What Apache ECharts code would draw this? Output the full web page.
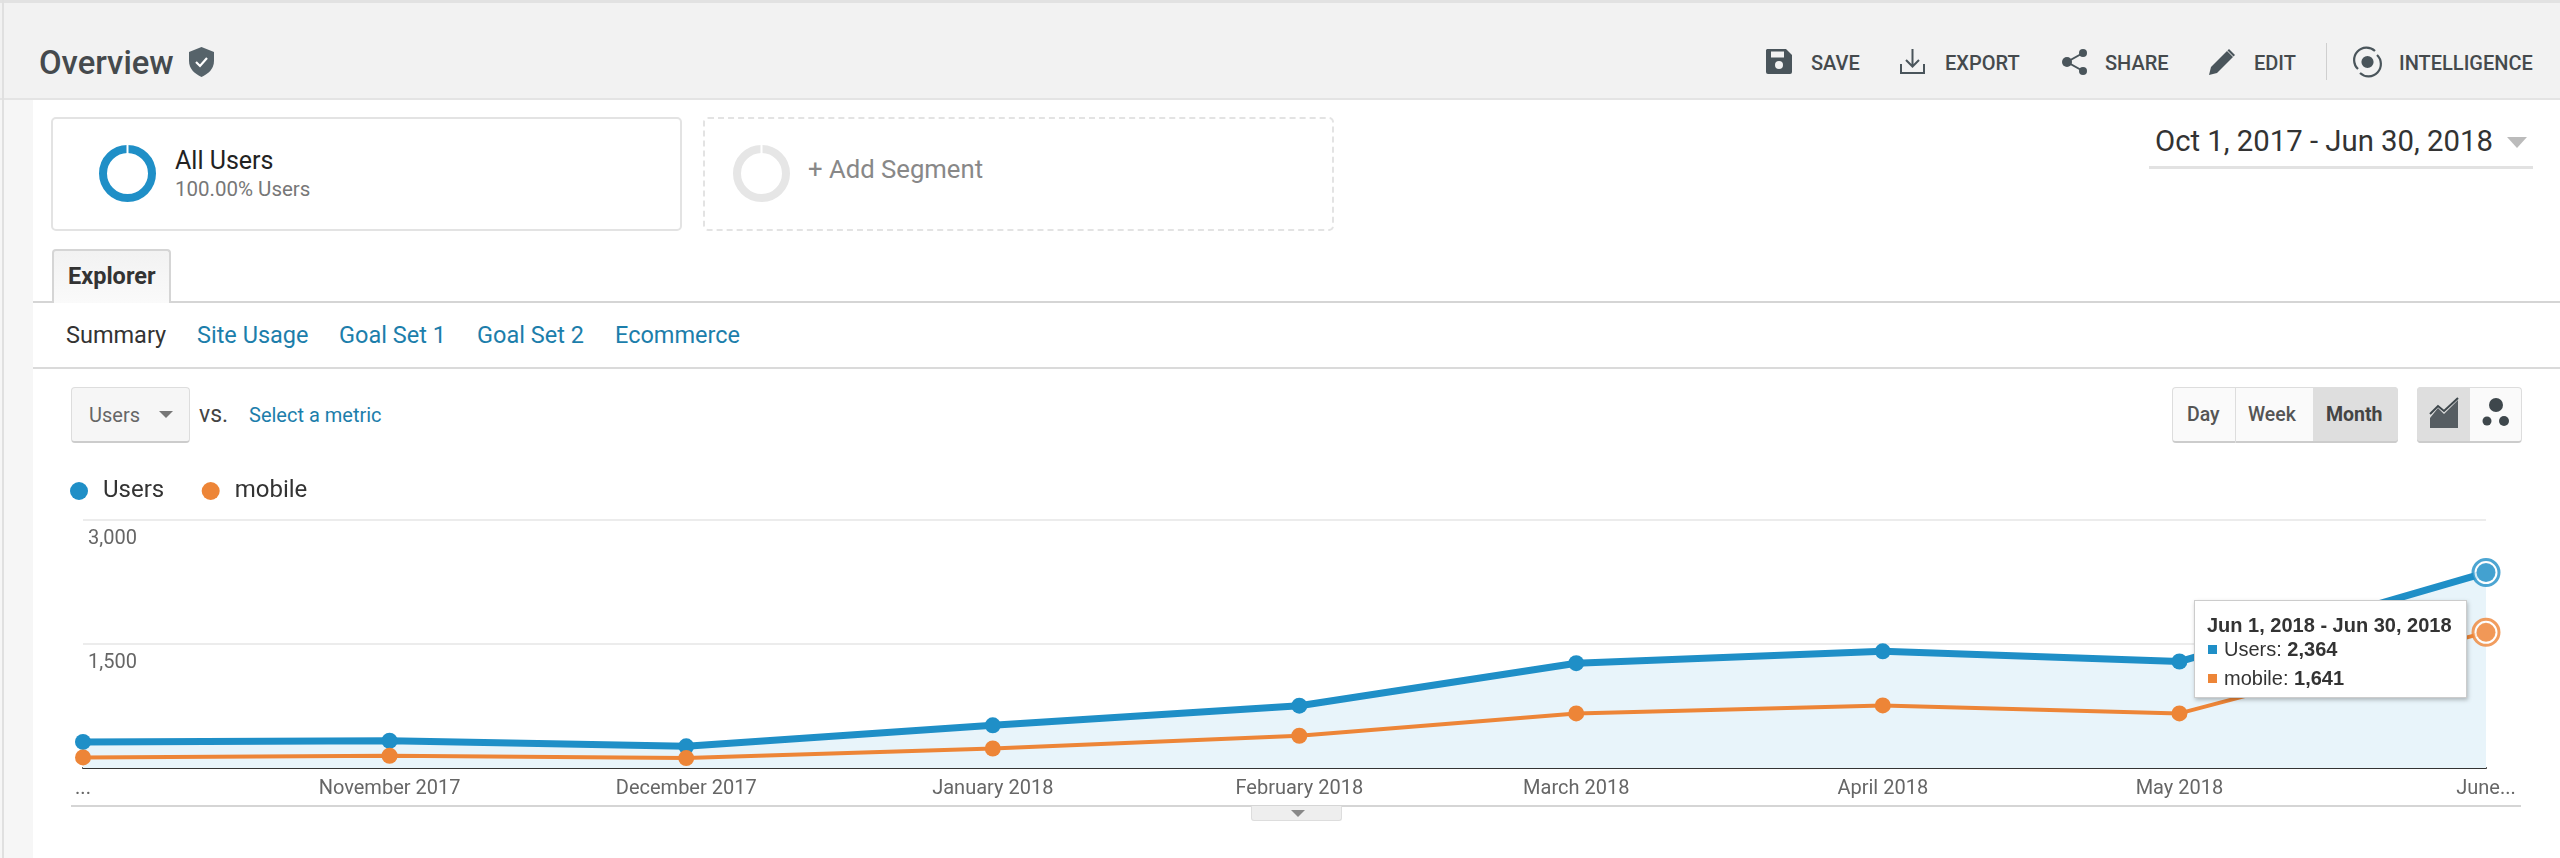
<!DOCTYPE html>
<html><head><meta charset="utf-8">
<script src="https://cdn.jsdelivr.net/npm/echarts@6/dist/echarts.min.js"></script>
<style>
html,body{margin:0;padding:0;width:2560px;height:858px;overflow:hidden;background:#fff;font-family:Roboto,Arial,sans-serif}
.t{position:absolute;white-space:nowrap;line-height:1;transform:translateY(-50%)}
.box{position:absolute;box-sizing:border-box}
#chart{position:absolute;left:0;top:0;width:2560px;height:858px}
svg{position:absolute;overflow:visible}
.st{font-size:20px;font-weight:500;color:#454a4d}
.lk{font-size:23.500px;color:#1c7eab}
</style></head><body>
<div class="box" style="left:0;top:0;width:2560px;height:100px;background:#f2f2f2;border-top:3px solid #e2e2e2;border-bottom:2px solid #e4e4e4"></div>
<div class="box" style="left:0;top:100px;width:33px;height:758px;background:#f6f6f6"></div>
<div class="box" style="left:2px;top:0;width:2px;height:858px;background:#e0e0e0"></div>

<div class="t" style="left:39px;top:63px;font-size:32.800px;font-weight:500;color:#454a4d">Overview</div>
<svg style="left:189px;top:47px" width="25" height="30" viewBox="0 0 25 30"><path d="M12.5 0 L25 5 V14 C25 22 19 27 12.5 30 C6 27 0 22 0 14 V5Z" fill="#56636a"/><path d="M7 15l4 4 7-8" stroke="#fff" stroke-width="2.2" fill="none"/></svg>

<svg style="left:1766px;top:49px" width="26" height="25" viewBox="0 0 26 25"><path d="M1 0H20L26 6V23a2 2 0 0 1-2 2H2a2 2 0 0 1-2-2V1Z" fill="#4a555b"/><rect x="5" y="2.5" width="13" height="6" fill="#f2f2f2"/><circle cx="13" cy="16" r="4" fill="#f2f2f2"/></svg>
<div class="t st" style="left:1811px;top:63px">SAVE</div>
<svg style="left:1900px;top:49px" width="25" height="25" viewBox="0 0 25 25" fill="none" stroke="#4a555b" stroke-width="2"><path d="M12.5 0V17M6 11l6.500 6.500L19 11"/><path d="M1 15V24H24V15"/></svg>
<div class="t st" style="left:1945px;top:63px">EXPORT</div>
<svg style="left:2062px;top:49px" width="26" height="26" viewBox="0 0 26 26"><path d="M21 4L5 13L21 22" stroke="#4a555b" stroke-width="2" fill="none"/><circle cx="21" cy="4" r="4" fill="#4a555b"/><circle cx="5" cy="13" r="5" fill="#4a555b"/><circle cx="21" cy="22" r="4" fill="#4a555b"/></svg>
<div class="t st" style="left:2105px;top:63px">SHARE</div>
<svg style="left:2209px;top:49px" width="26" height="26" viewBox="0 0 26 26"><path d="M0 26L2 18L18 2L24 8L8 24Z" fill="#4a555b"/><path d="M20 0L26 6L24.500 7.500L18.500 1.500Z" fill="#4a555b"/></svg>
<div class="t st" style="left:2254px;top:63px">EDIT</div>
<div class="box" style="left:2326px;top:43px;width:1px;height:37px;background:#cfcfcf"></div>
<svg style="left:2353px;top:48px" width="29" height="28" viewBox="0 0 29 28" fill="none" stroke="#4a555b" stroke-width="2.2"><path d="M5 21A12 12 0 0 1 22 3"/><path d="M24 7A12 12 0 0 1 7 25"/><circle cx="14.500" cy="14" r="5" fill="#4a555b"/></svg>
<div class="t st" style="left:2399px;top:63px">INTELLIGENCE</div>

<div class="box" style="left:51px;top:117px;width:631px;height:114px;border:2px solid #e3e3e3;border-radius:5px"></div>
<svg style="left:99px;top:144.500px" width="57" height="57" viewBox="0 0 57 57"><circle cx="28.500" cy="28.500" r="24.500" fill="none" stroke="#1f8fc7" stroke-width="8"/><rect x="27.500" y="0" width="2" height="9" fill="#fff"/></svg>
<div class="t" style="left:175px;top:160px;font-size:25px;color:#222">All Users</div>
<div class="t" style="left:175px;top:189px;font-size:20.500px;color:#777">100.00% Users</div>
<div class="box" style="left:703px;top:117px;width:631px;height:114px;border:2px dashed #e3e3e3;border-radius:5px"></div>
<svg style="left:733px;top:144.500px" width="57" height="57" viewBox="0 0 57 57"><circle cx="28.500" cy="28.500" r="24.500" fill="none" stroke="#e6e6e6" stroke-width="8"/><rect x="27.500" y="0" width="2" height="9" fill="#fff"/></svg>
<div class="t" style="left:808px;top:170px;font-size:25.700px;color:#888">+ Add Segment</div>

<div class="t" style="left:2155px;top:142px;font-size:29.300px;color:#333">Oct 1, 2017 - Jun 30, 2018</div>
<svg style="left:2507px;top:137px" width="20" height="11"><path d="M0 0H20L10 11Z" fill="#bbb"/></svg>
<div class="box" style="left:2149px;top:166px;width:384px;height:3px;background:#e2e2e2"></div>

<div class="box" style="left:33px;top:301px;width:2527px;height:2px;background:#d5d5d5"></div>
<div class="box" style="left:52px;top:249px;width:119px;height:54px;background:linear-gradient(#f2f2f2,#fafafa);border:2px solid #d5d5d5;border-bottom:none;border-radius:4px 4px 0 0"></div>
<div class="t" style="left:68px;top:277px;font-size:23.500px;font-weight:700;color:#333">Explorer</div>
<div class="t" style="left:66px;top:336px;font-size:23.500px;color:#333">Summary</div>
<div class="t lk" style="left:197px;top:336px">Site Usage</div>
<div class="t lk" style="left:339px;top:336px">Goal Set 1</div>
<div class="t lk" style="left:477px;top:336px">Goal Set 2</div>
<div class="t lk" style="left:615px;top:336px">Ecommerce</div>
<div class="box" style="left:33px;top:367px;width:2527px;height:2px;background:#dadada"></div>

<div class="box" style="left:71px;top:387px;width:119px;height:56px;background:#f6f6f6;border:1px solid #ddd;border-bottom:2px solid #ccc;border-radius:4px"></div>
<div class="t" style="left:89px;top:415px;font-size:20px;color:#666">Users</div>
<svg style="left:159px;top:411px" width="14" height="7"><path d="M0 0H14L7 7Z" fill="#777"/></svg>
<div class="t" style="left:199px;top:414px;font-size:23px;color:#444">vs.</div>
<div class="t" style="left:249px;top:415px;font-size:20px;color:#1c7eab">Select a metric</div>

<div class="box" style="left:2172px;top:387px;width:226px;height:56px;background:#fafafa;border:1px solid #ddd;border-bottom:2px solid #ccc;border-radius:4px"></div>
<div class="box" style="left:2313px;top:387px;width:85px;height:56px;background:#dedede;border-bottom:2px solid #ccc;border-radius:0 4px 4px 0"></div>
<div class="box" style="left:2235px;top:387px;width:1px;height:56px;background:#ddd"></div>
<div class="t" style="left:2187px;top:415px;font-size:19.500px;font-weight:500;color:#555">Day</div>
<div class="t" style="left:2248px;top:415px;font-size:19.500px;font-weight:500;color:#555">Week</div>
<div class="t" style="left:2326px;top:415px;font-size:19.500px;font-weight:700;color:#444">Month</div>
<div class="box" style="left:2417px;top:387px;width:105px;height:56px;background:#fafafa;border:1px solid #ddd;border-bottom:2px solid #ccc;border-radius:4px"></div>
<div class="box" style="left:2417px;top:387px;width:53px;height:56px;background:#dedede;border-bottom:2px solid #ccc;border-radius:4px 0 0 4px"></div>
<svg style="left:2430px;top:398px" width="28" height="30" viewBox="0 0 28 30"><path d="M0 30V20L8 10L14 16L28 2V30Z" fill="#3e474c" opacity=".85"/><path d="M0 16L8 8L14 13L28 0" fill="none" stroke="#3e474c" stroke-width="2"/></svg>
<svg style="left:2480px;top:397px" width="32" height="32" viewBox="0 0 32 32" fill="#3e474c"><circle cx="16" cy="8" r="7"/><circle cx="7" cy="24" r="4.500"/><circle cx="24" cy="24" r="5"/></svg>

<div class="box" style="left:71px;top:805px;width:2450px;height:2px;background:#d5d5d5"></div>
<div class="box" style="left:1251px;top:806px;width:91px;height:15px;background:#eee;border:1px solid #ddd;border-top:none;border-radius:0 0 3px 3px"></div>
<svg style="left:1291px;top:810px" width="14" height="7"><path d="M0 0H14L7 7Z" fill="#888"/></svg>

<div id="chart"></div>
<script>
const monthDates = ['2017-10-01','2017-11-01','2017-12-01','2018-01-01','2018-02-01','2018-03-01','2018-04-01','2018-05-01','2018-06-01'];
const tickLabels = ['...','November 2017','December 2017','January 2018','February 2018','March 2018','April 2018','May 2018','June...'];
const usersValues = [315,330,262,516,754,1268,1411,1288,2364];
const mobileValues = [128,148,120,236,390,660,757,660,1641];
const yTicks = [0,1500,3000];
const tipTitle = 'Jun 1, 2018 - Jun 30, 2018';

const BLUE='#1f8fc7', ORANGE='#ed8537';
const ts = monthDates.map(d=>Date.parse(d+'T00:00:00Z'));
const pairs = v => v.map((y,i)=>[ts[i],y]);
const lastPair = v => [[ts[ts.length-1], v[v.length-1]]];
const fmt = n => n.toLocaleString('en-US');
const chart = echarts.init(document.getElementById('chart'),null,{renderer:'canvas',width:2560,height:858});
chart.setOption({
  animation:false,
  backgroundColor:'transparent',
  legend:{
    data:['Users','mobile'],left:65,top:474,icon:'circle',itemWidth:18,itemHeight:18,itemGap:37.500,
    textStyle:{fontFamily:'Roboto',fontSize:24,color:'#333',padding:[0,0,0,10]}
  },
  grid:{left:83,right:74,top:520,bottom:858-768},
  xAxis:{
    type:'value',min:ts[0],max:ts[ts.length-1],
    axisLine:{show:true,onZero:false,lineStyle:{color:'#333',width:2}},
    axisTick:{show:false},splitLine:{show:false},
    axisLabel:{
      customValues:ts,hideOverlap:false,margin:11,showMinLabel:true,showMaxLabel:true,
      fontFamily:'Roboto',fontSize:20,color:'#666',
      formatter:v=>tickLabels[ts.indexOf(v)]
    }
  },
  yAxis:{
    type:'value',min:yTicks[0],max:yTicks[2],interval:yTicks[1],
    axisLine:{show:false},axisTick:{show:false},
    splitLine:{lineStyle:{color:'#ececec',width:2}},
    axisLabel:{
      inside:true,margin:5,verticalAlign:'top',lineHeight:38,fontFamily:'Roboto',fontSize:20,color:'#666',
      formatter:v=>v===0?'':fmt(v)
    }
  },
  tooltip:{
    trigger:'axis',alwaysShowContent:true,showContent:true,transitionDuration:0,
    axisPointer:{type:'none'},
    position:[2194,600],
    padding:0,borderWidth:1,borderColor:'#ccc',backgroundColor:'#fff',
    extraCssText:'box-shadow:1px 2px 4px rgba(0,0,0,.25);border-radius:0;width:271px;height:96px;box-sizing:content-box;',
    formatter:()=>{
      const i=usersValues.length-1;
      const row=(c,n,v,top)=>`<div style="position:absolute;left:13px;top:${top}px;white-space:nowrap;font:20px/22px 'Liberation Sans',Arial;color:#333"><span style="display:inline-block;width:9px;height:9px;background:${c};margin-right:7px;vertical-align:2px"></span>${n}: <b>${fmt(v)}</b></div>`;
      return `<div style="position:absolute;left:12px;top:13px;white-space:nowrap;font:bold 20px/22px 'Liberation Sans',Arial;color:#333">${tipTitle}</div>`
        +row(BLUE,'Users',usersValues[i],37)+row(ORANGE,'mobile',mobileValues[i],66);
    }
  },
  series:[
    {name:'Users',type:'line',data:pairs(usersValues),z:2,symbol:'circle',symbolSize:16,showSymbol:true,
     lineStyle:{color:BLUE,width:7},itemStyle:{color:BLUE},areaStyle:{color:'#e8f4fa',opacity:1},
     emphasis:{disabled:true}},
    {name:'mobile',type:'line',data:pairs(mobileValues),z:3,symbol:'circle',symbolSize:16,showSymbol:true,
     lineStyle:{color:ORANGE,width:4},itemStyle:{color:ORANGE},emphasis:{disabled:true}},
    {name:'Users ring',type:'scatter',data:lastPair(usersValues),z:4,symbol:'circle',symbolSize:26,
     itemStyle:{color:'#fff',borderColor:BLUE,borderWidth:3},tooltip:{show:false},emphasis:{disabled:true}},
    {name:'mobile ring',type:'scatter',data:lastPair(mobileValues),z:4,symbol:'circle',symbolSize:26,
     itemStyle:{color:'#fff',borderColor:ORANGE,borderWidth:3},tooltip:{show:false},emphasis:{disabled:true}},
    {name:'Users dot',type:'scatter',data:lastPair(usersValues),z:5,symbol:'circle',symbolSize:19,
     itemStyle:{color:BLUE},tooltip:{show:false},emphasis:{disabled:true}},
    {name:'mobile dot',type:'scatter',data:lastPair(mobileValues),z:5,symbol:'circle',symbolSize:19,
     itemStyle:{color:ORANGE},tooltip:{show:false},emphasis:{disabled:true}}
  ]
});
chart.dispatchAction({type:'showTip',seriesIndex:0,dataIndex:usersValues.length-1});
</script>
</body></html>
